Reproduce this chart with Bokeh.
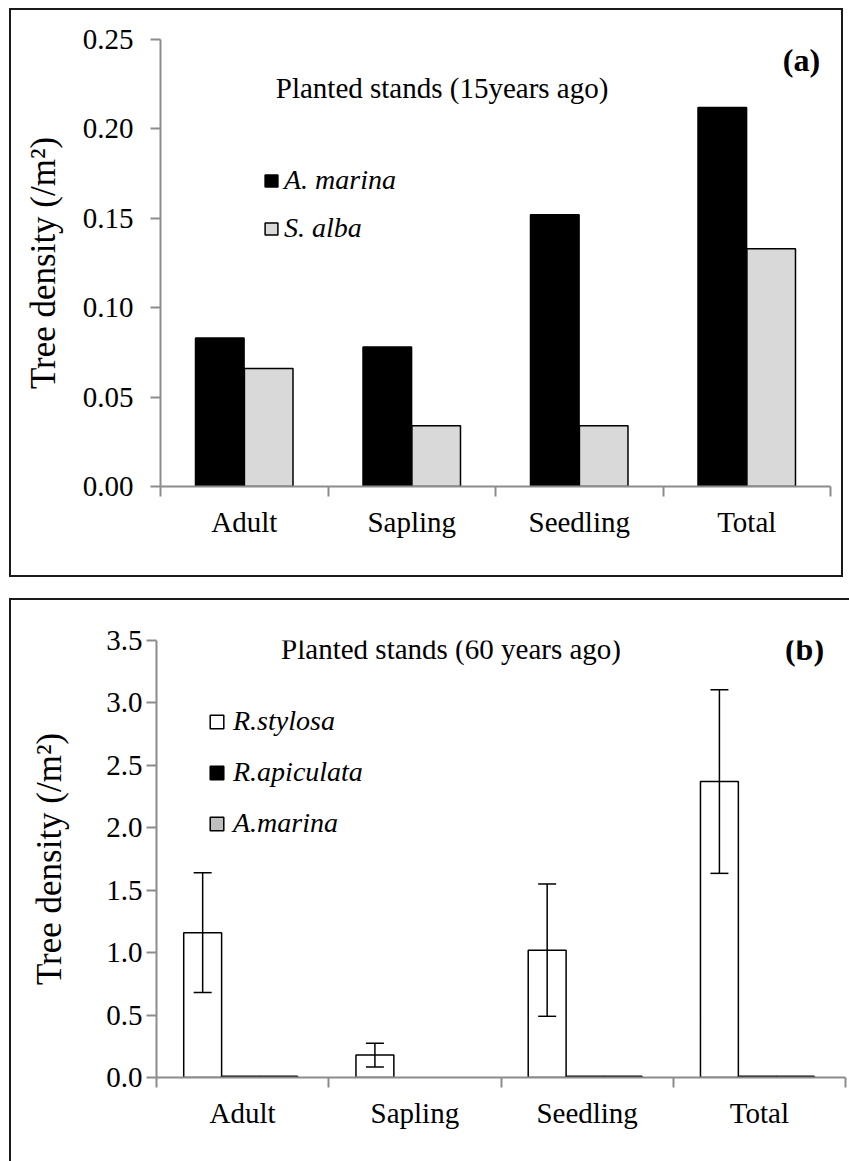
import numpy as np
from bokeh.plotting import figure
from bokeh.models import (FactorRange, Range1d, LinearAxis, FixedTicker, Label, Legend,
                          LegendItem, ColumnDataSource, Whisker, TeeHead, NumeralTickFormatter)
from bokeh.transform import dodge
from bokeh.embed import file_html
from bokeh.resources import INLINE

# ---------------- data ----------------
categories = ["Adult", "Sapling", "Seedling", "Total"]

# panel (a): planted 15 years ago
a_marina_15 = [0.083, 0.078, 0.152, 0.212]
s_alba_15 = [0.066, 0.034, 0.034, 0.133]
yticks_a = [0.00, 0.05, 0.10, 0.15, 0.20, 0.25]

# panel (b): planted 60 years ago
r_stylosa_60 = [1.16, 0.18, 1.02, 2.37]
r_stylosa_err = [0.48, 0.095, 0.53, 0.735]
r_apiculata_60 = [0.01, 0.0, 0.01, 0.01]
a_marina_60 = [0.01, 0.0, 0.01, 0.01]
yticks_b = [0.0, 0.5, 1.0, 1.5, 2.0, 2.5, 3.0, 3.5]

SERIF = "Liberation Serif"
AXIS_GRAY = "#8c8c8c"
EDGE = "2px solid #1a1a1a"


def nz(v):
    v = np.asarray(v, dtype=float)
    return np.where(v > 0, v, np.nan)


def make_fig(width, height, ymax, yticks, fmt, borders, y_tick_standoff, y_label_standoff,
             box, margin):
    left, right, top, bottom = borders
    p = figure(width=width, height=height,
               x_range=FactorRange(factors=categories, range_padding=0),
               y_range=Range1d(0, ymax),
               x_axis_type=None, output_backend="svg", toolbar_location=None,
               min_border_left=left, min_border_right=right,
               min_border_top=top, min_border_bottom=bottom, margin=margin)
    p.outline_line_color = None
    p.grid.visible = False
    p.background_fill_color = "white"
    p.border_fill_color = "white"
    p.styles = box

    ya = p.yaxis[0]
    ya.ticker = FixedTicker(ticks=yticks)
    ya.formatter = NumeralTickFormatter(format=fmt)
    ya.axis_line_color = AXIS_GRAY
    ya.axis_line_width = 2
    ya.major_tick_line_color = AXIS_GRAY
    ya.major_tick_line_width = 2
    ya.major_tick_out = 10
    ya.major_tick_in = 0
    ya.minor_tick_line_color = None
    ya.major_label_text_font = SERIF
    ya.major_label_text_font_size = "29px"
    ya.major_label_text_color = "black"
    ya.major_label_standoff = y_tick_standoff
    ya.axis_label = "Tree density (/m²)"
    ya.axis_label_text_font = SERIF
    ya.axis_label_text_font_size = "35px"
    ya.axis_label_text_font_style = "normal"
    ya.axis_label_text_color = "black"
    ya.axis_label_standoff = y_label_standoff

    xa = LinearAxis(
        ticker=FixedTicker(ticks=[i + 0.5 for i in range(len(categories))],
                           minor_ticks=list(range(len(categories) + 1))),
        major_label_overrides={i + 0.5: c for i, c in enumerate(categories)})
    xa.axis_line_color = AXIS_GRAY
    xa.axis_line_width = 2
    xa.major_tick_line_color = None
    xa.major_tick_out = 0
    xa.major_tick_in = 0
    xa.minor_tick_line_color = AXIS_GRAY
    xa.minor_tick_line_width = 2
    xa.minor_tick_out = 10
    xa.minor_tick_in = 0
    xa.major_label_text_font = SERIF
    xa.major_label_text_font_size = "29px"
    xa.major_label_text_color = "black"
    xa.major_label_standoff = 9
    p.add_layout(xa, "below")
    return p


# ---------------- panel (a) ----------------
pa = make_fig(834, 569, 0.25, yticks_a, "0.00", (149, 15, 29, 93), 17, 17,
              {"border": EDGE}, (8, 0, 0, 9))
src_a = ColumnDataSource(dict(cat=categories, am=a_marina_15, sa=s_alba_15))
ra = pa.vbar(x=dodge("cat", -0.146, range=pa.x_range), top="am", width=0.29, source=src_a,
             fill_color="black", line_color="black", line_width=1.5)
rb = pa.vbar(x=dodge("cat", 0.146, range=pa.x_range), top="sa", width=0.29, source=src_a,
             fill_color="#d9d9d9", line_color="black", line_width=1.5)
leg_a = Legend(items=[LegendItem(label="A. marina", renderers=[ra]),
                      LegendItem(label="S. alba", renderers=[rb])],
               location=(103, 242), orientation="vertical",
               glyph_width=16, glyph_height=15, label_standoff=5, spacing=16,
               label_height=28, padding=0, margin=0,
               label_text_font=SERIF, label_text_font_size="28px",
               label_text_font_style="italic", label_text_color="black",
               border_line_color=None, background_fill_alpha=0)
pa.add_layout(leg_a, "center")
pa.add_layout(Label(x=1.681, y=0.2226, text="Planted stands (15years ago)",
                    text_font=SERIF, text_font_size="29px", text_align="center",
                    text_baseline="middle", text_color="black"))
pa.add_layout(Label(x=3.827, y=0.2388, text="(a)", text_font=SERIF, text_font_size="32px",
                    text_font_style="bold", text_align="center", text_baseline="middle",
                    text_color="black"))

# ---------------- panel (b) ----------------
pb = make_fig(840, 563, 3.5, yticks_b, "0.0", (145, 6, 40, 86), 4, 34,
              {"border-top": EDGE, "border-left": EDGE}, (21, 0, 0, 9))
src_b = ColumnDataSource(dict(cat=categories, rs=r_stylosa_60, ra=nz(r_apiculata_60),
                              am=nz(a_marina_60),
                              upper=np.add(r_stylosa_60, r_stylosa_err),
                              lower=np.subtract(r_stylosa_60, r_stylosa_err)))
off_rs, off_ra, off_am, bw = -0.232, -0.012, 0.208, 0.22
r1 = pb.vbar(x=dodge("cat", off_rs, range=pb.x_range), top="rs", width=bw, source=src_b,
             fill_color="white", line_color="black", line_width=1.5)
r2 = pb.vbar(x=dodge("cat", off_ra, range=pb.x_range), top="ra", width=bw, source=src_b,
             fill_color="black", line_color="black", line_width=1.5)
r3 = pb.vbar(x=dodge("cat", off_am, range=pb.x_range), top="am", width=bw, source=src_b,
             fill_color="#bfbfbf", line_color="black", line_width=1.5)
wh = Whisker(base=dodge("cat", off_rs, range=pb.x_range), upper="upper", lower="lower",
             source=src_b, line_color="black", line_width=1.5, level="annotation",
             upper_head=TeeHead(size=18, line_width=1.5, line_color="black"),
             lower_head=TeeHead(size=18, line_width=1.5, line_color="black"))
pb.add_layout(wh)
leg_b = Legend(items=[LegendItem(label="R.stylosa", renderers=[r1]),
                      LegendItem(label="R.apiculata", renderers=[r2]),
                      LegendItem(label="A.marina", renderers=[r3])],
               location=(52, 238), orientation="vertical",
               glyph_width=17, glyph_height=17, label_standoff=8, spacing=19,
               label_height=28, padding=0, margin=0,
               label_text_font=SERIF, label_text_font_size="28px",
               label_text_font_style="italic", label_text_color="black",
               border_line_color=None, background_fill_alpha=0)
pb.add_layout(leg_b, "center")
pb.add_layout(Label(x=1.71, y=3.432, text="Planted stands (60 years ago)",
                    text_font=SERIF, text_font_size="29px", text_align="center",
                    text_baseline="middle", text_color="black"))
pb.add_layout(Label(x=3.762, y=3.432, text="(b)", text_font=SERIF, text_font_size="32px",
                    text_font_style="bold", text_align="center", text_baseline="middle",
                    text_color="black"))

open("out.html", "w").write(file_html([pa, pb], INLINE))
